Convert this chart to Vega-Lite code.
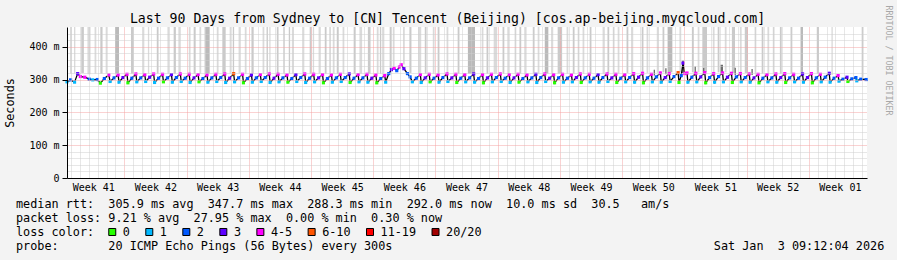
{
  "$schema": "https://vega.github.io/schema/vega-lite/v6.json",
  "autosize": {"type": "none"},
  "width": 800,
  "height": 151,
  "padding": {"left": 67, "top": 27, "right": 30, "bottom": 82},
  "background": "#f3f3f3",
  "view": {"fill": "#ffffff", "stroke": null},
  "config": {"font": "DejaVu Sans Mono", "view": {"stroke": null}},
  "title": {"text": "Last 90 Days from Sydney to [CN] Tencent (Beijing) [cos.ap-beijing.myqcloud.com]", "frame": "group", "anchor": "middle", "offset": 3, "baseline": "alphabetic", "dx": -19.5, "dy": 34, "font": "DejaVu Sans Mono", "fontSize": 13.2, "fontWeight": "normal", "color": "#000000"},
  "datasets": {
    "stripes": [
      {"d":0.34,"d2":0.54,"lo":318,"hi":460,"s":"a"},{"d":0.79,"d2":0.94,"lo":318,"hi":460,"s":"a"},{"d":1.6,"d2":1.9,"lo":320,"hi":460,"s":"b"},{"d":2.3,"d2":2.65,"lo":316,"hi":460,"s":"a"},{"d":3.1,"d2":3.3,"lo":318,"hi":460,"s":"a"},{"d":3.75,"d2":4.0,"lo":318,"hi":460,"s":"b"},{"d":4.35,"d2":4.5,"lo":318,"hi":460,"s":"a"},{"d":5.4,"d2":5.85,"lo":318,"hi":460,"s":"c"},{"d":7.2,"d2":7.5,"lo":318,"hi":460,"s":"b"},{"d":8.5,"d2":8.7,"lo":318,"hi":460,"s":"a"},{"d":9.1,"d2":9.25,"lo":318,"hi":460,"s":"a"},{"d":10.1,"d2":10.3,"lo":318,"hi":460,"s":"b"},{"d":11.3,"d2":11.5,"lo":318,"hi":460,"s":"a"},{"d":12.0,"d2":12.25,"lo":318,"hi":460,"s":"b"},{"d":12.6,"d2":12.8,"lo":318,"hi":460,"s":"a"},{"d":13.7,"d2":13.9,"lo":318,"hi":460,"s":"a"},{"d":14.25,"d2":14.45,"lo":318,"hi":460,"s":"b"},{"d":14.9,"d2":15.1,"lo":318,"hi":460,"s":"a"},{"d":15.55,"d2":16.05,"lo":318,"hi":460,"s":"c"},{"d":16.85,"d2":17.05,"lo":318,"hi":460,"s":"a"},{"d":17.5,"d2":17.85,"lo":318,"hi":460,"s":"b"},{"d":18.3,"d2":18.45,"lo":318,"hi":460,"s":"a"},{"d":18.65,"d2":18.8,"lo":318,"hi":460,"s":"b"},{"d":19.3,"d2":19.5,"lo":318,"hi":460,"s":"a"},{"d":20.0,"d2":20.2,"lo":318,"hi":460,"s":"a"},{"d":20.75,"d2":21.0,"lo":318,"hi":460,"s":"b"},{"d":22.0,"d2":22.2,"lo":318,"hi":460,"s":"a"},{"d":22.45,"d2":22.6,"lo":318,"hi":460,"s":"b"},{"d":22.75,"d2":22.9,"lo":318,"hi":460,"s":"a"},{"d":23.6,"d2":23.8,"lo":318,"hi":460,"s":"b"},{"d":24.3,"d2":24.5,"lo":318,"hi":460,"s":"a"},{"d":24.95,"d2":25.1,"lo":318,"hi":460,"s":"b"},{"d":25.3,"d2":25.5,"lo":318,"hi":460,"s":"a"},{"d":26.5,"d2":26.7,"lo":318,"hi":460,"s":"a"},{"d":27.3,"d2":27.5,"lo":318,"hi":460,"s":"b"},{"d":27.65,"d2":27.8,"lo":318,"hi":460,"s":"a"},{"d":28.3,"d2":28.5,"lo":318,"hi":460,"s":"a"},{"d":29.0,"d2":29.2,"lo":318,"hi":460,"s":"b"},{"d":29.55,"d2":29.7,"lo":318,"hi":460,"s":"a"},{"d":29.9,"d2":30.1,"lo":318,"hi":460,"s":"a"},{"d":30.35,"d2":30.55,"lo":318,"hi":460,"s":"b"},{"d":31.0,"d2":31.2,"lo":318,"hi":460,"s":"a"},{"d":32.25,"d2":32.45,"lo":318,"hi":460,"s":"b"},{"d":32.9,"d2":33.2,"lo":318,"hi":460,"s":"a"},{"d":33.85,"d2":34.15,"lo":318,"hi":460,"s":"b"},{"d":34.85,"d2":35.05,"lo":318,"hi":460,"s":"a"},{"d":35.2,"d2":35.35,"lo":318,"hi":460,"s":"b"},{"d":35.5,"d2":35.7,"lo":318,"hi":460,"s":"a"},{"d":36.3,"d2":36.5,"lo":332,"hi":460,"s":"b"},{"d":36.65,"d2":36.85,"lo":336,"hi":460,"s":"a"},{"d":37.8,"d2":38.0,"lo":346,"hi":460,"s":"a"},{"d":38.55,"d2":38.75,"lo":320,"hi":460,"s":"b"},{"d":39.5,"d2":39.85,"lo":318,"hi":460,"s":"a"},{"d":40.25,"d2":40.45,"lo":318,"hi":460,"s":"b"},{"d":41.15,"d2":41.35,"lo":318,"hi":460,"s":"a"},{"d":41.7,"d2":41.9,"lo":318,"hi":460,"s":"b"},{"d":42.7,"d2":42.9,"lo":318,"hi":460,"s":"a"},{"d":43.95,"d2":44.15,"lo":318,"hi":460,"s":"b"},{"d":45.1,"d2":45.9,"lo":318,"hi":460,"s":"c"},{"d":46.65,"d2":46.85,"lo":318,"hi":460,"s":"a"},{"d":47.2,"d2":47.4,"lo":318,"hi":460,"s":"b"},{"d":48.0,"d2":48.4,"lo":318,"hi":460,"s":"a"},{"d":49.0,"d2":49.2,"lo":318,"hi":460,"s":"b"},{"d":49.6,"d2":49.8,"lo":318,"hi":460,"s":"a"},{"d":50.35,"d2":50.55,"lo":318,"hi":460,"s":"a"},{"d":50.9,"d2":51.1,"lo":318,"hi":460,"s":"b"},{"d":51.5,"d2":51.7,"lo":318,"hi":460,"s":"a"},{"d":52.4,"d2":52.6,"lo":318,"hi":460,"s":"b"},{"d":52.95,"d2":53.15,"lo":318,"hi":460,"s":"a"},{"d":53.75,"d2":54.15,"lo":318,"hi":460,"s":"c"},{"d":54.5,"d2":54.7,"lo":318,"hi":460,"s":"a"},{"d":55.2,"d2":55.7,"lo":318,"hi":460,"s":"b"},{"d":56.2,"d2":56.4,"lo":318,"hi":460,"s":"a"},{"d":56.9,"d2":57.1,"lo":318,"hi":460,"s":"b"},{"d":57.45,"d2":57.65,"lo":318,"hi":460,"s":"a"},{"d":58.0,"d2":58.2,"lo":318,"hi":460,"s":"a"},{"d":58.8,"d2":59.0,"lo":318,"hi":460,"s":"b"},{"d":60.25,"d2":60.45,"lo":318,"hi":460,"s":"a"},{"d":60.8,"d2":61.0,"lo":318,"hi":460,"s":"b"},{"d":61.4,"d2":61.6,"lo":318,"hi":460,"s":"a"},{"d":61.95,"d2":62.15,"lo":318,"hi":460,"s":"a"},{"d":62.95,"d2":63.15,"lo":320,"hi":460,"s":"b"},{"d":63.5,"d2":63.7,"lo":320,"hi":460,"s":"a"},{"d":64.65,"d2":64.85,"lo":320,"hi":460,"s":"b"},{"d":65.2,"d2":65.4,"lo":320,"hi":460,"s":"a"},{"d":66.35,"d2":66.55,"lo":320,"hi":460,"s":"a"},{"d":67.0,"d2":67.2,"lo":322,"hi":460,"s":"b"},{"d":67.6,"d2":68.1,"lo":322,"hi":460,"s":"c"},{"d":68.9,"d2":69.1,"lo":322,"hi":460,"s":"a"},{"d":70.3,"d2":70.5,"lo":322,"hi":460,"s":"b"},{"d":70.95,"d2":71.15,"lo":322,"hi":460,"s":"a"},{"d":71.5,"d2":72.0,"lo":322,"hi":460,"s":"b"},{"d":72.65,"d2":72.85,"lo":322,"hi":460,"s":"a"},{"d":73.2,"d2":73.4,"lo":322,"hi":460,"s":"b"},{"d":74.0,"d2":74.2,"lo":322,"hi":460,"s":"a"},{"d":74.8,"d2":75.15,"lo":320,"hi":460,"s":"b"},{"d":75.7,"d2":75.9,"lo":320,"hi":460,"s":"a"},{"d":76.25,"d2":76.6,"lo":320,"hi":460,"s":"b"},{"d":77.35,"d2":77.55,"lo":318,"hi":460,"s":"a"},{"d":78.15,"d2":78.35,"lo":318,"hi":460,"s":"b"},{"d":78.8,"d2":79.0,"lo":318,"hi":460,"s":"a"},{"d":79.4,"d2":79.6,"lo":318,"hi":460,"s":"a"},{"d":80.2,"d2":80.4,"lo":318,"hi":460,"s":"b"},{"d":81.4,"d2":81.6,"lo":318,"hi":460,"s":"b"},{"d":82.55,"d2":82.8,"lo":318,"hi":460,"s":"c"},{"d":84.35,"d2":84.6,"lo":318,"hi":460,"s":"b"},{"d":86.0,"d2":86.15,"lo":314,"hi":460,"s":"a"},{"d":89.4,"d2":89.6,"lo":306,"hi":460,"s":"b"},
      {"d":66.0,"d2":66.15,"lo":312,"hi":330,"s":"d"},{"d":67.3,"d2":67.45,"lo":316,"hi":334,"s":"d"},{"d":69.2,"d2":69.4,"lo":320,"hi":358,"s":"d"},{"d":70.6,"d2":70.75,"lo":315,"hi":340,"s":"d"},{"d":71.55,"d2":71.7,"lo":316,"hi":335,"s":"d"},{"d":73.5,"d2":73.8,"lo":315,"hi":345,"s":"d"},{"d":75.1,"d2":75.25,"lo":314,"hi":336,"s":"d"},{"d":77.0,"d2":77.15,"lo":314,"hi":332,"s":"d"}
    ],
    "median": [
      {"d":0,"v":293,"l":"1"},{"d":0.4,"v":299,"l":"2"},{"d":0.85,"v":292,"l":"1"},{"d":1.2,"v":318,"l":"3"},{"d":1.5,"v":309,"l":"4-5"},{"d":2.0,"v":307,"l":"4-5"},{"d":2.5,"v":301,"l":"2"},{"d":2.9,"v":299,"l":"1"},{"d":3.4,"v":300,"l":"2"},{"d":3.75,"v":289,"l":"0"},{"d":4.2,"v":303,"l":"2"},{"d":4.7,"v":314,"l":"4-5"},
      {"d":4.85,"v":294,"l":"1"},{"d":5.3,"v":305,"l":"2"},{"d":5.75,"v":314,"l":"4-5"},
      {"d":5.85,"v":292,"l":"1"},{"d":6.3,"v":306,"l":"3"},{"d":6.75,"v":316,"l":"4-5"},
      {"d":6.85,"v":290,"l":"0"},{"d":7.3,"v":304,"l":"2"},{"d":7.75,"v":317,"l":"4-5"},
      {"d":7.85,"v":293,"l":"1"},{"d":8.3,"v":305,"l":"2"},{"d":8.75,"v":315,"l":"4-5"},
      {"d":8.85,"v":294,"l":"1"},{"d":9.3,"v":307,"l":"3"},{"d":9.75,"v":317,"l":"4-5"},
      {"d":9.85,"v":291,"l":"1"},{"d":10.3,"v":304,"l":"2"},{"d":10.75,"v":316,"l":"4-5"},
      {"d":10.85,"v":293,"l":"0"},{"d":11.3,"v":305,"l":"2"},{"d":11.75,"v":315,"l":"3"},
      {"d":11.85,"v":292,"l":"1"},{"d":12.3,"v":306,"l":"2"},{"d":12.75,"v":317,"l":"4-5"},
      {"d":12.85,"v":294,"l":"1"},{"d":13.3,"v":304,"l":"2"},{"d":13.75,"v":316,"l":"4-5"},
      {"d":13.85,"v":291,"l":"1"},{"d":14.3,"v":305,"l":"3"},{"d":14.75,"v":315,"l":"4-5"},
      {"d":14.85,"v":293,"l":"0"},{"d":15.3,"v":303,"l":"2"},{"d":15.75,"v":314,"l":"4-5"},
      {"d":15.85,"v":292,"l":"1"},{"d":16.3,"v":305,"l":"2"},{"d":16.75,"v":316,"l":"4-5"},
      {"d":16.85,"v":294,"l":"1"},{"d":17.3,"v":306,"l":"2"},{"d":17.75,"v":317,"l":"4-5"},
      {"d":17.85,"v":291,"l":"1"},{"d":18.3,"v":304,"l":"3"},{"d":18.75,"v":318,"l":"6-10"},
      {"d":18.85,"v":293,"l":"1"},{"d":19.3,"v":305,"l":"2"},{"d":19.75,"v":316,"l":"4-5"},
      {"d":19.85,"v":290,"l":"0"},{"d":20.3,"v":303,"l":"2"},{"d":20.75,"v":314,"l":"3"},
      {"d":20.85,"v":292,"l":"1"},{"d":21.3,"v":305,"l":"2"},{"d":21.75,"v":315,"l":"4-5"},
      {"d":21.85,"v":294,"l":"1"},{"d":22.3,"v":306,"l":"2"},{"d":22.75,"v":317,"l":"4-5"},
      {"d":22.85,"v":291,"l":"1"},{"d":23.3,"v":304,"l":"3"},{"d":23.75,"v":316,"l":"4-5"},
      {"d":23.85,"v":293,"l":"1"},{"d":24.3,"v":305,"l":"2"},{"d":24.75,"v":314,"l":"4-5"},
      {"d":24.85,"v":292,"l":"0"},{"d":25.3,"v":303,"l":"2"},{"d":25.75,"v":315,"l":"3"},
      {"d":25.85,"v":294,"l":"1"},{"d":26.3,"v":306,"l":"2"},{"d":26.75,"v":317,"l":"4-5"},
      {"d":26.85,"v":291,"l":"1"},{"d":27.3,"v":304,"l":"2"},{"d":27.75,"v":316,"l":"4-5"},
      {"d":27.85,"v":293,"l":"1"},{"d":28.3,"v":305,"l":"3"},{"d":28.75,"v":315,"l":"4-5"},
      {"d":28.85,"v":290,"l":"0"},{"d":29.3,"v":303,"l":"2"},{"d":29.75,"v":314,"l":"4-5"},
      {"d":29.85,"v":292,"l":"1"},{"d":30.3,"v":305,"l":"2"},{"d":30.75,"v":316,"l":"4-5"},
      {"d":30.85,"v":294,"l":"1"},{"d":31.3,"v":306,"l":"2"},{"d":31.75,"v":317,"l":"3"},
      {"d":31.85,"v":291,"l":"0"},{"d":32.3,"v":304,"l":"2"},{"d":32.75,"v":315,"l":"4-5"},
      {"d":32.85,"v":293,"l":"1"},{"d":33.3,"v":305,"l":"2"},{"d":33.75,"v":316,"l":"4-5"},
      {"d":33.85,"v":292,"l":"1"},{"d":34.3,"v":304,"l":"3"},{"d":34.75,"v":314,"l":"4-5"},
      {"d":34.85,"v":290,"l":"0"},{"d":35.3,"v":303,"l":"2"},{"d":35.75,"v":312,"l":"4-5"},
      {"d":35.85,"v":292,"l":"1"},{"d":36.2,"v":318,"l":"2"},{"d":36.5,"v":330,"l":"3"},{"d":36.8,"v":334,"l":"4-5"},{"d":37.1,"v":327,"l":"2"},{"d":37.4,"v":338,"l":"4-5"},{"d":37.6,"v":345,"l":"4-5"},{"d":37.9,"v":333,"l":"3"},{"d":38.3,"v":318,"l":"2"},{"d":38.6,"v":308,"l":"2"},
      {"d":38.85,"v":293,"l":"1"},{"d":39.3,"v":304,"l":"2"},{"d":39.75,"v":315,"l":"4-5"},
      {"d":39.85,"v":291,"l":"1"},{"d":40.3,"v":305,"l":"3"},{"d":40.75,"v":316,"l":"4-5"},
      {"d":40.85,"v":293,"l":"0"},{"d":41.3,"v":304,"l":"2"},{"d":41.75,"v":314,"l":"4-5"},
      {"d":41.85,"v":292,"l":"1"},{"d":42.3,"v":306,"l":"2"},{"d":42.75,"v":317,"l":"4-5"},
      {"d":42.85,"v":294,"l":"1"},{"d":43.3,"v":305,"l":"3"},{"d":43.75,"v":316,"l":"4-5"},
      {"d":43.85,"v":291,"l":"0"},{"d":44.3,"v":304,"l":"2"},{"d":44.75,"v":315,"l":"4-5"},
      {"d":44.85,"v":293,"l":"1"},{"d":45.3,"v":305,"l":"2"},{"d":45.75,"v":317,"l":"3"},
      {"d":45.85,"v":292,"l":"1"},{"d":46.3,"v":303,"l":"2"},{"d":46.75,"v":315,"l":"4-5"},
      {"d":46.85,"v":290,"l":"0"},{"d":47.3,"v":305,"l":"3"},{"d":47.75,"v":316,"l":"4-5"},
      {"d":47.85,"v":293,"l":"1"},{"d":48.3,"v":306,"l":"2"},{"d":48.75,"v":317,"l":"4-5"},
      {"d":48.85,"v":294,"l":"1"},{"d":49.3,"v":304,"l":"2"},{"d":49.75,"v":315,"l":"4-5"},
      {"d":49.85,"v":291,"l":"1"},{"d":50.3,"v":305,"l":"3"},{"d":50.75,"v":316,"l":"4-5"},
      {"d":50.85,"v":292,"l":"0"},{"d":51.3,"v":303,"l":"2"},{"d":51.75,"v":314,"l":"4-5"},
      {"d":51.85,"v":293,"l":"1"},{"d":52.3,"v":305,"l":"2"},{"d":52.75,"v":316,"l":"3"},
      {"d":52.85,"v":291,"l":"1"},{"d":53.3,"v":306,"l":"2"},{"d":53.75,"v":317,"l":"4-5"},
      {"d":53.85,"v":294,"l":"1"},{"d":54.3,"v":304,"l":"3"},{"d":54.75,"v":315,"l":"4-5"},
      {"d":54.85,"v":290,"l":"0"},{"d":55.3,"v":305,"l":"2"},{"d":55.75,"v":316,"l":"4-5"},
      {"d":55.85,"v":292,"l":"1"},{"d":56.3,"v":304,"l":"2"},{"d":56.75,"v":314,"l":"4-5"},
      {"d":56.85,"v":293,"l":"1"},{"d":57.3,"v":306,"l":"3"},{"d":57.75,"v":317,"l":"4-5"},
      {"d":57.85,"v":291,"l":"0"},{"d":58.3,"v":305,"l":"2"},{"d":58.75,"v":316,"l":"4-5"},
      {"d":58.85,"v":293,"l":"1"},{"d":59.3,"v":304,"l":"2"},{"d":59.75,"v":315,"l":"3"},
      {"d":59.85,"v":292,"l":"1"},{"d":60.3,"v":306,"l":"2"},{"d":60.75,"v":317,"l":"4-5"},
      {"d":60.85,"v":294,"l":"1"},{"d":61.3,"v":305,"l":"3"},{"d":61.75,"v":316,"l":"4-5"},
      {"d":61.85,"v":291,"l":"0"},{"d":62.3,"v":304,"l":"2"},{"d":62.75,"v":315,"l":"4-5"},
      {"d":62.85,"v":293,"l":"1"},{"d":63.3,"v":306,"l":"2"},{"d":63.75,"v":318,"l":"4-5"},
      {"d":63.85,"v":292,"l":"1"},{"d":64.3,"v":307,"l":"3"},{"d":64.75,"v":319,"l":"4-5"},
      {"d":64.85,"v":290,"l":"0"},{"d":65.3,"v":305,"l":"2"},{"d":65.75,"v":316,"l":"4-5"},
      {"d":65.85,"v":293,"l":"1"},{"d":66.3,"v":308,"l":"2"},{"d":66.75,"v":320,"l":"4-5"},
      {"d":66.85,"v":292,"l":"1"},{"d":67.3,"v":306,"l":"3"},{"d":67.75,"v":318,"l":"4-5"},
      {"d":67.85,"v":294,"l":"1"},{"d":68.3,"v":309,"l":"2"},{"d":68.75,"v":321,"l":"6-10"},
      {"d":68.85,"v":291,"l":"0"},{"d":69.1,"v":312,"l":"2"},{"d":69.3,"v":350,"l":"3"},{"d":69.5,"v":318,"l":"4-5"},{"d":69.75,"v":320,"l":"4-5"},
      {"d":69.85,"v":292,"l":"1"},{"d":70.3,"v":307,"l":"2"},{"d":70.75,"v":319,"l":"4-5"},
      {"d":70.85,"v":293,"l":"1"},{"d":71.3,"v":308,"l":"3"},{"d":71.75,"v":321,"l":"4-5"},
      {"d":71.85,"v":290,"l":"0"},{"d":72.3,"v":306,"l":"2"},{"d":72.75,"v":318,"l":"4-5"},
      {"d":72.85,"v":292,"l":"1"},{"d":73.3,"v":309,"l":"2"},{"d":73.75,"v":320,"l":"4-5"},
      {"d":73.85,"v":293,"l":"1"},{"d":74.3,"v":307,"l":"3"},{"d":74.75,"v":319,"l":"4-5"},
      {"d":74.85,"v":291,"l":"0"},{"d":75.3,"v":308,"l":"2"},{"d":75.75,"v":318,"l":"4-5"},
      {"d":75.85,"v":293,"l":"1"},{"d":76.3,"v":306,"l":"2"},{"d":76.75,"v":317,"l":"4-5"},
      {"d":76.85,"v":292,"l":"1"},{"d":77.3,"v":305,"l":"3"},{"d":77.75,"v":316,"l":"4-5"},
      {"d":77.85,"v":290,"l":"0"},{"d":78.3,"v":304,"l":"2"},{"d":78.75,"v":315,"l":"4-5"},
      {"d":78.85,"v":293,"l":"1"},{"d":79.3,"v":305,"l":"2"},{"d":79.75,"v":317,"l":"4-5"},
      {"d":79.85,"v":292,"l":"1"},{"d":80.3,"v":306,"l":"3"},{"d":80.75,"v":318,"l":"4-5"},
      {"d":80.85,"v":291,"l":"0"},{"d":81.3,"v":305,"l":"2"},{"d":81.75,"v":316,"l":"4-5"},
      {"d":81.85,"v":293,"l":"1"},{"d":82.3,"v":304,"l":"2"},{"d":82.75,"v":317,"l":"3"},
      {"d":82.85,"v":292,"l":"1"},{"d":83.3,"v":306,"l":"3"},{"d":83.75,"v":318,"l":"4-5"},
      {"d":83.85,"v":290,"l":"0"},{"d":84.3,"v":305,"l":"2"},{"d":84.75,"v":316,"l":"4-5"},
      {"d":84.85,"v":293,"l":"1"},{"d":85.3,"v":307,"l":"2"},{"d":85.75,"v":319,"l":"3"},
      {"d":85.85,"v":292,"l":"1"},{"d":86.3,"v":304,"l":"2"},{"d":86.75,"v":312,"l":"4-5"},
      {"d":86.85,"v":295,"l":"1"},{"d":87.3,"v":301,"l":"2"},{"d":87.75,"v":307,"l":"3"},
      {"d":87.85,"v":294,"l":"0"},{"d":88.3,"v":302,"l":"2"},{"d":88.75,"v":306,"l":"2"},
      {"d":88.85,"v":296,"l":"1"},{"d":89.3,"v":301,"l":"2"},{"d":89.9,"v":300,"l":"2"}
    ],
    "foot": [
      {"c":0,"r":0,"t":"median rtt:\u00a0\u00a0305.9 ms avg\u00a0\u00a0347.7 ms max\u00a0\u00a0288.3 ms min\u00a0\u00a0292.0 ms now\u00a0\u00a010.0 ms sd\u00a0\u00a030.5\u00a0\u00a0\u00a0am/s"},
      {"c":0,"r":1,"t":"packet loss: 9.21 % avg\u00a0\u00a027.95 % max\u00a0\u00a00.00 % min\u00a0\u00a00.30 % now"},
      {"c":0,"r":2,"t":"loss color:"},
      {"c":15.0,"r":2,"t":"0"},{"c":20.2,"r":2,"t":"1"},{"c":25.4,"r":2,"t":"2"},{"c":30.6,"r":2,"t":"3"},{"c":35.8,"r":2,"t":"4-5"},{"c":43.0,"r":2,"t":"6-10"},{"c":51.2,"r":2,"t":"11-19"},{"c":60.4,"r":2,"t":"20/20"},
      {"c":0,"r":3,"t":"probe:\u00a0\u00a0\u00a0\u00a0\u00a0\u00a0\u00a020 ICMP Echo Pings (56 Bytes) every 300s"},
      {"c":98,"r":3,"t":"Sat Jan\u00a0\u00a03 09:12:04 2026"}
    ],
    "squares": [
      {"c":13.52,"r":2,"l":"0"},{"c":18.72,"r":2,"l":"1"},{"c":23.92,"r":2,"l":"2"},{"c":29.12,"r":2,"l":"3"},{"c":34.32,"r":2,"l":"4-5"},{"c":41.52,"r":2,"l":"6-10"},{"c":49.72,"r":2,"l":"11-19"},{"c":58.92,"r":2,"l":"20/20"}
    ]
  },
  "layer": [
    {
      "layer": [
        {
          "data": {"name": "stripes"},
          "mark": {"type": "rect"},
          "encoding": {
            "x": {"field": "d", "type": "quantitative", "scale": {"domain": [0, 90], "nice": false, "zero": false},
                  "axis": {"orient": "bottom", "values": [0.45,1.45,2.45,3.45,4.45,5.45,7.45,8.45,9.45,10.45,11.45,12.45,14.45,15.45,16.45,17.45,18.45,19.45,21.45,22.45,23.45,24.45,25.45,26.45,28.45,29.45,30.45,31.45,32.45,33.45,35.45,36.45,37.45,38.45,39.45,40.45,42.45,43.45,44.45,45.45,46.45,47.45,49.45,50.45,51.45,52.45,53.45,54.45,56.45,57.45,58.45,59.45,60.45,61.45,63.45,64.45,65.45,66.45,67.45,68.45,70.45,71.45,72.45,73.45,74.45,75.45,77.45,78.45,79.45,80.45,81.45,82.45,84.45,85.45,86.45,87.45,88.45,89.45], "labels": false, "ticks": false, "domain": false, "title": null, "grid": true, "gridColor": "#cfcfcf", "gridDash": [1, 1], "gridWidth": 1, "zindex": 1}},
            "x2": {"field": "d2"},
            "y": {"field": "lo", "type": "quantitative", "scale": {"domain": [0, 460], "nice": false, "zero": false},
                  "axis": {"orient": "left", "values": [20,40,60,80,120,140,160,180,220,240,260,280,320,340,360,380,420,440], "labels": false, "ticks": false, "domain": false, "title": null, "grid": true, "gridColor": "#cfcfcf", "gridDash": [1, 1], "gridWidth": 1, "zindex": 1}},
            "y2": {"field": "hi"},
            "fill": {"field": "s", "type": "nominal", "scale": {"domain": ["a", "b", "c", "d"], "range": ["#dadada", "#cacaca", "#bababa", "#6e6e6e"]}, "legend": null}
          }
        },
        {
          "data": {"name": "median"},
          "mark": {"type": "line", "color": "#000000", "strokeWidth": 1.3},
          "encoding": {
            "x": {"field": "d", "type": "quantitative", "scale": {"domain": [0, 90], "nice": false, "zero": false},
                  "axis": {"orient": "bottom", "values": [6.45,13.45,20.45,27.45,34.45,41.45,48.45,55.45,62.45,69.45,76.45,83.45], "labels": false, "ticks": false, "domain": false, "title": null, "grid": true, "gridColor": "#f4a4a4", "gridDash": [1, 1], "gridWidth": 1, "zindex": 1}},
            "y": {"field": "v", "type": "quantitative", "scale": {"domain": [0, 460], "nice": false, "zero": false},
                  "axis": {"orient": "left", "values": [100, 200, 300, 400], "labels": false, "ticks": false, "domain": false, "title": null, "grid": true, "gridColor": "#f4a4a4", "gridDash": [1, 1], "gridWidth": 1, "zindex": 1}}
          }
        },
        {
          "data": {"name": "median"},
          "mark": {"type": "point", "shape": "square", "filled": true, "size": 10, "opacity": 1},
          "encoding": {
            "x": {"field": "d", "type": "quantitative", "scale": {"domain": [0, 90], "nice": false, "zero": false},
                  "axis": {"orient": "bottom", "values": [2.95,9.95,16.95,23.95,30.95,37.95,44.95,51.95,58.95,65.95,72.95,79.95,86.95], "labelExpr": "'Week ' + (datum.value < 84 ? (41 + floor(datum.value / 7)) : '01')", "title": null, "grid": false, "ticks": true, "tickSize": 0, "labelPadding": 12.7, "labelBaseline": "alphabetic", "labelFontSize": 10, "labelFont": "DejaVu Sans Mono", "labelColor": "#000000", "labelOverlap": false, "labelFlush": false, "domain": true, "domainColor": "#000000", "domainWidth": 1, "zindex": 1}},
            "y": {"field": "v", "type": "quantitative", "scale": {"domain": [0, 460], "nice": false, "zero": false},
                  "axis": {"orient": "left", "values": [0, 100, 200, 300, 400], "labelExpr": "datum.value == 0 ? '0' : datum.value + ' m'", "title": "Seconds", "titleFont": "DejaVu Sans Mono", "titleFontSize": 11.8, "titleFontWeight": "normal", "titleColor": "#000000", "titlePadding": 13, "grid": false, "ticks": true, "tickSize": 5, "tickColor": "#000000", "labelPadding": 3, "labelFontSize": 10, "labelFont": "DejaVu Sans Mono", "labelColor": "#000000", "labelOverlap": false, "labelFlush": false, "domain": true, "domainColor": "#000000", "domainWidth": 1, "zindex": 1}},
            "color": {"field": "l", "type": "nominal", "scale": {"domain": ["0", "1", "2", "3", "4-5", "6-10", "11-19", "20/20"], "range": ["#26ff00", "#00b8ff", "#0059ff", "#5e00ff", "#ff00ff", "#ff5500", "#ff0000", "#a10000"]}, "legend": null}
          }
        },
        {
          "mark": {"type": "point", "shape": "triangle-up", "filled": true, "size": 36, "color": "#8b1a1a", "opacity": 1, "yOffset": -4, "clip": false},
          "encoding": {
            "x": {"datum": 0, "type": "quantitative", "scale": {"domain": [0, 90], "nice": false, "zero": false}, "axis": null},
            "y": {"datum": 460, "type": "quantitative", "scale": {"domain": [0, 460], "nice": false, "zero": false},
                  "axis": {"orient": "right", "title": "RRDTOOL / TOBI OETIKER", "labels": false, "ticks": false, "domain": false, "grid": false, "titleAngle": 90, "titleAlign": "left", "titleBaseline": "middle", "titleX": 20, "titleY": -22, "titleFont": "DejaVu Sans Mono", "titleFontSize": 8.3, "titleFontWeight": "normal", "titleColor": "#a8a8a8"}}
          }
        },
        {
          "mark": {"type": "point", "shape": "triangle-right", "filled": true, "size": 36, "color": "#8b1a1a", "opacity": 1, "xOffset": 4, "clip": false},
          "encoding": {
            "x": {"datum": 90, "type": "quantitative", "scale": {"domain": [0, 90], "nice": false, "zero": false}, "axis": null},
            "y": {"datum": 0, "type": "quantitative", "scale": {"domain": [0, 460], "nice": false, "zero": false}, "axis": null}
          }
        }
      ],
      "resolve": {"axis": {"x": "independent", "y": "independent"}}
    },
    {
      "data": {"name": "foot"},
      "mark": {"type": "text", "align": "left", "baseline": "middle", "font": "DejaVu Sans Mono", "fontSize": 11.8, "color": "#000000"},
      "encoding": {
        "x": {"field": "c", "type": "quantitative", "scale": {"domain": [7.163, 119.52], "nice": false, "zero": false}, "axis": null},
        "y": {"field": "r", "type": "quantitative", "scale": {"domain": [-12.643, -1.857], "reverse": true, "nice": false, "zero": false}, "axis": null},
        "text": {"field": "t"}
      }
    },
    {
      "data": {"name": "squares"},
      "mark": {"type": "point", "shape": "square", "filled": true, "size": 49, "stroke": "#000000", "strokeWidth": 1, "opacity": 1},
      "encoding": {
        "x": {"field": "c", "type": "quantitative", "scale": {"domain": [7.163, 119.52], "nice": false, "zero": false}, "axis": null},
        "y": {"field": "r", "type": "quantitative", "scale": {"domain": [-12.643, -1.857], "reverse": true, "nice": false, "zero": false}, "axis": null},
        "color": {"field": "l", "type": "nominal", "scale": {"domain": ["0", "1", "2", "3", "4-5", "6-10", "11-19", "20/20"], "range": ["#26ff00", "#00b8ff", "#0059ff", "#5e00ff", "#ff00ff", "#ff5500", "#ff0000", "#a10000"]}, "legend": null}
      }
    }
  ],
  "resolve": {"scale": {"x": "independent", "y": "independent"}}
}
